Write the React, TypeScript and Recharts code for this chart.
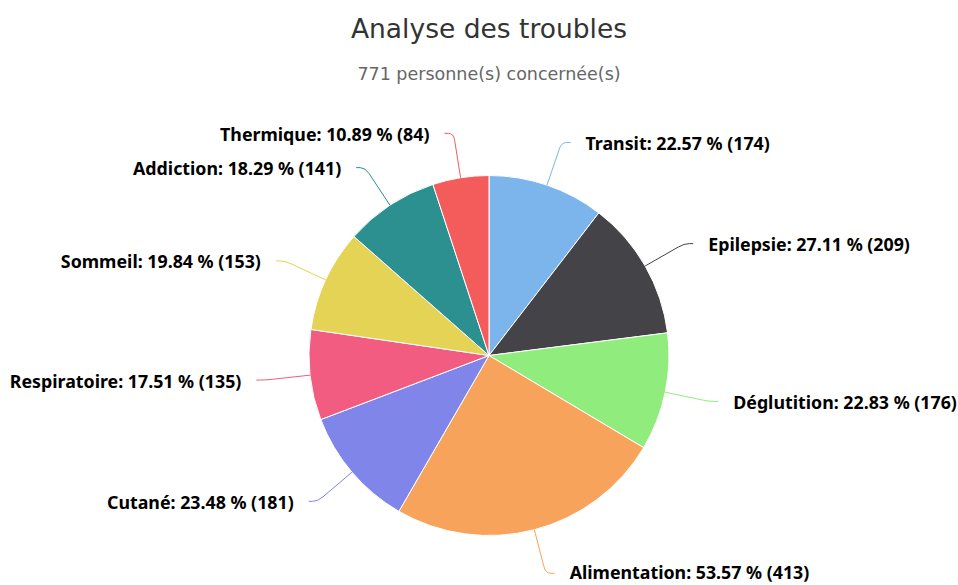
import { Cell, Pie, PieChart } from "recharts";

const categories = ["Transit", "Epilepsie", "Déglutition", "Alimentation", "Cutané", "Respiratoire", "Sommeil", "Addiction", "Thermique"];
const counts = [174, 209, 176, 413, 181, 135, 153, 141, 84];
const colors = ["#7cb5ec", "#434348", "#90ed7d", "#f7a35c", "#8085e9", "#f15c80", "#e4d354", "#2b908f", "#f45b5b"];
const totalPersons = 771;

const data = categories.map((name, i) => ({ name, value: counts[i] }));

const RAD = Math.PI / 180;

function renderLabel(props: any) {
  const { cx, cy, midAngle, outerRadius, index } = props;
  const cos = Math.cos(-midAngle * RAD);
  const sin = Math.sin(-midAngle * RAD);
  const ax = cx + outerRadius * cos;
  const ay = cy + outerRadius * sin;
  const bx = cx + (outerRadius + 45) * cos;
  const by = cy + (outerRadius + 45) * sin;
  const dir = cos >= 0 ? 1 : -1;
  const color = colors[index % colors.length];
  const pct = ((counts[index] / totalPersons) * 100).toFixed(2);
  const d = `M ${ax} ${ay} L ${bx - 7 * cos} ${by - 7 * sin} Q ${bx} ${by} ${bx + dir * 5} ${by} L ${bx + dir * 9} ${by}`;
  // keep the lowest label inside the frame
  const baseline = Math.min(by + 7.5, 579);
  return (
    <g key={`lbl-${index}`}>
      <path d={d} stroke={color} strokeWidth={1} fill="none" />
      <text
        x={bx + dir * 24}
        y={baseline}
        textAnchor={dir > 0 ? "start" : "end"}
        fontFamily="'Noto Sans', sans-serif"
        fontWeight="bold"
        fontSize={17.8}
        fill="#000000"
      >
        {`${categories[index]}: ${pct} % (${counts[index]})`}
      </text>
    </g>
  );
}

export default function App() {
  return (
    <div style={{ position: "absolute", left: 0, top: 0, width: 958, height: 585, background: "#ffffff" }}>
      <PieChart width={958} height={585} margin={{ top: 0, right: 0, bottom: 0, left: 0 }}>
        <Pie
          data={data}
          dataKey="value"
          nameKey="name"
          cx={489}
          cy={355.5}
          outerRadius={180}
          startAngle={90}
          endAngle={-270}
          stroke="#ffffff"
          strokeWidth={1}
          label={renderLabel}
          labelLine={false}
          isAnimationActive={false}
        >
          {data.map((_, i) => <Cell key={i} fill={colors[i]} />)}
        </Pie>
      </PieChart>
      <svg width={958} height={100} style={{ position: "absolute", left: 0, top: 0, pointerEvents: "none" }}>
        <text x={489} y={38} textAnchor="middle" fontFamily="'DejaVu Sans', sans-serif" fontSize={26.5} fill="#333333">
          Analyse des troubles
        </text>
        <text x={489} y={80} textAnchor="middle" fontFamily="'DejaVu Sans', sans-serif" fontSize={17.5} fill="#666666">
          771 personne(s) concernée(s)
        </text>
      </svg>
    </div>
  );
}
